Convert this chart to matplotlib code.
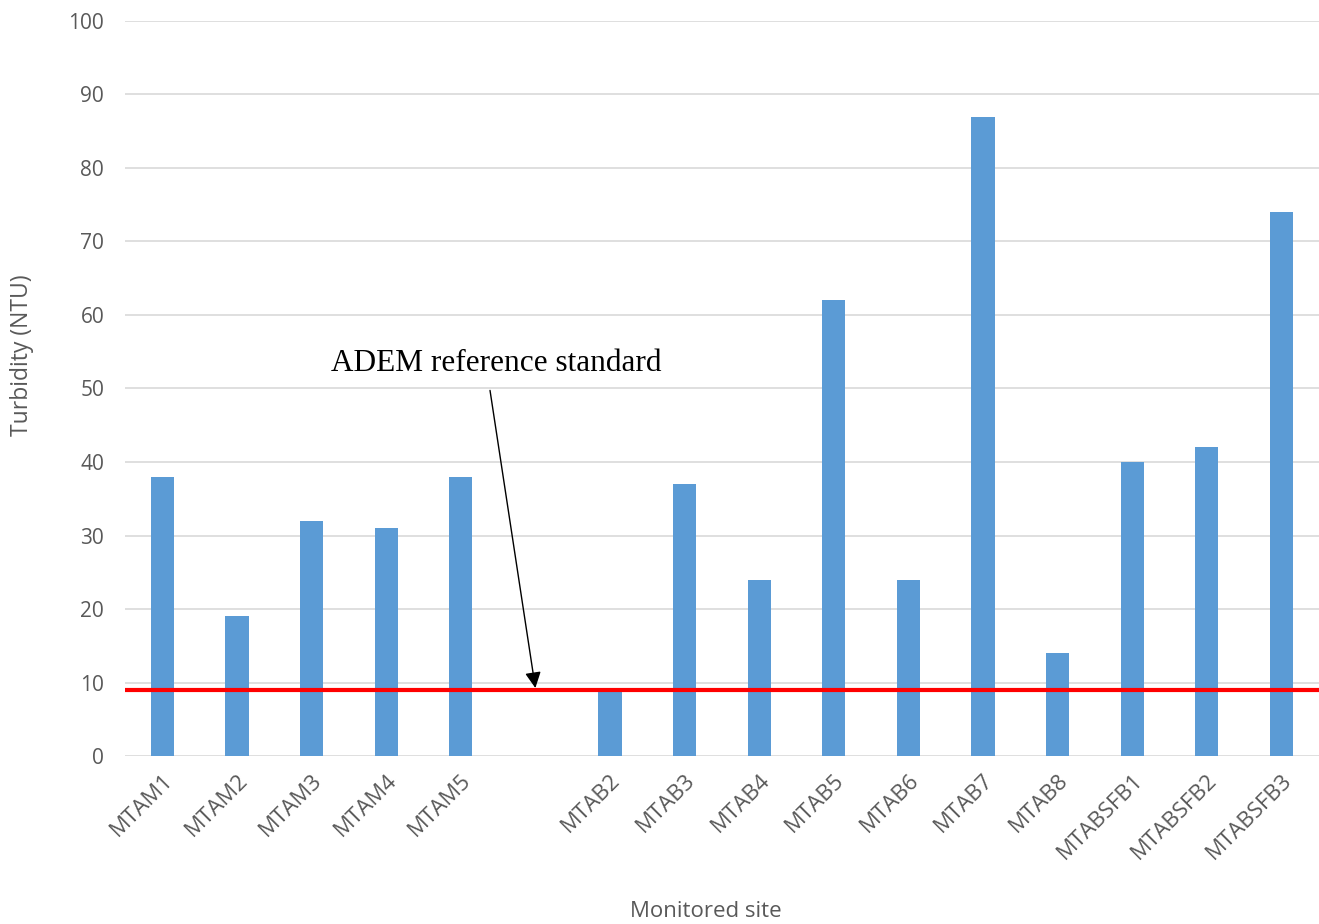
import numpy as np
import matplotlib
matplotlib.use("Agg")
import matplotlib.pyplot as plt

# Datos de turbidez por sitio (el hueco entre MTAM5 y MTAB2 queda vacío)
sitios = ["MTAM1", "MTAM2", "MTAM3", "MTAM4", "MTAM5", "",
          "MTAB2", "MTAB3", "MTAB4", "MTAB5", "MTAB6", "MTAB7", "MTAB8",
          "MTABSFB1", "MTABSFB2", "MTABSFB3"]
turbidez = [38, 19, 32, 31, 38, np.nan,
            9, 37, 24, 62, 24, 87, 14,
            40, 42, 74]
estandar_adem = 9

gris = "#595959"
fig = plt.figure(figsize=(13.19, 9.24), dpi=100)
ax = fig.add_axes([0.0948, 0.1818, 0.905, 0.7955])

x = np.arange(len(sitios))
ax.bar(x, turbidez, width=0.31, color="#5B9BD5", zorder=2)
ax.axhline(estandar_adem, color="#FF0000", linewidth=3, zorder=3)

ax.set_xlim(-0.5, len(sitios) - 0.5)
ax.set_ylim(0, 100)
ax.set_yticks(np.arange(0, 101, 10))
ax.grid(axis="y", color="#D9D9D9", linewidth=1.2, zorder=0)
for s in ax.spines.values():
    s.set_visible(False)
ax.tick_params(axis="y", length=0, labelsize=15, labelcolor=gris, pad=15)
ax.tick_params(axis="x", length=0, labelsize=16, labelcolor=gris, pad=10)
ax.set_xticks(x)
ax.set_xticklabels(sitios, rotation=45, ha="right", rotation_mode="anchor",
                   fontfamily="Open Sans")
for lab in ax.get_yticklabels():
    lab.set_fontfamily("Open Sans")

fig.text(0.017, 0.616, "Turbidity (NTU)", fontsize=16.5, color=gris, rotation=90,
         fontfamily="Open Sans", ha="center", va="center")
fig.text(0.535, 0.014, "Monitored site", fontsize=16, color=gris,
         fontfamily="Open Sans", ha="center", va="center")

ax.annotate("ADEM reference standard", xy=(5.0, 9.25), xytext=(4.47, 53.4),
            fontsize=22.5, fontfamily="Liberation Serif", ha="center", va="center",
            arrowprops=dict(arrowstyle="-|>", color="black", lw=1,
                            mutation_scale=24, shrinkA=7, shrinkB=0,
                            relpos=(0.47, 0.5)),
            zorder=4)

fig.savefig("out.png", dpi=100)
